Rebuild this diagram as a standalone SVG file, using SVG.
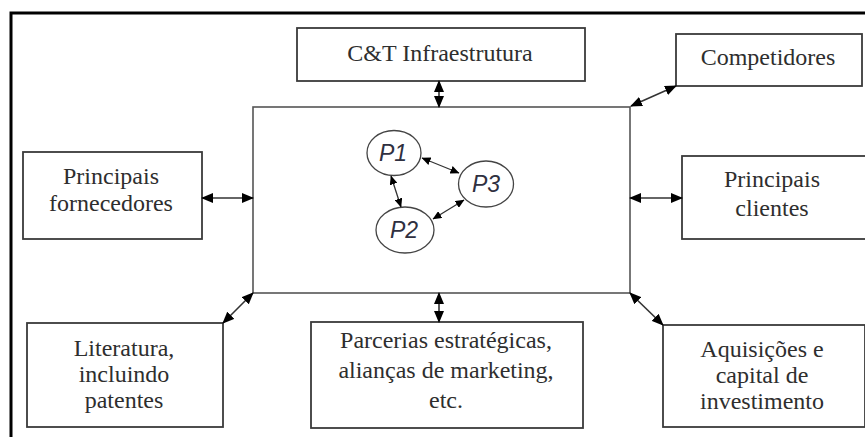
<svg xmlns="http://www.w3.org/2000/svg" width="865" height="437" viewBox="0 0 865 437">
<style>
.box{fill:#fff;stroke:#3a3a3a;stroke-width:1.8}
.lbl{font-family:"Liberation Serif","Times New Roman",serif;font-size:24px;fill:#2e2e2e;text-anchor:middle}
.pn{fill:#fff;stroke:#444;stroke-width:1.3}
.pl{font-family:"Liberation Sans",Arial,sans-serif;font-style:italic;font-size:23px;fill:#2f3040;text-anchor:middle}
.con{stroke:#333;stroke-width:1.6;fill:none;marker-start:url(#ah);marker-end:url(#ah)}
.con2{stroke:#333;stroke-width:1.3;fill:none;marker-start:url(#ahs);marker-end:url(#ahs)}
</style>
<defs>
<marker id="ah" markerUnits="userSpaceOnUse" markerWidth="12" markerHeight="10" refX="11" refY="5" orient="auto-start-reverse" viewBox="0 0 12 10">
<path d="M0,0 L12,5 L0,10 Z" fill="#000"/>
</marker>
<marker id="ahs" markerUnits="userSpaceOnUse" markerWidth="9" markerHeight="8" refX="8.5" refY="4" orient="auto-start-reverse" viewBox="0 0 9 8">
<path d="M0,0 L9,4 L0,8 Z" fill="#000"/>
</marker>
</defs>
<rect x="0" y="0" width="865" height="437" fill="#fff"/>
<path d="M11,440 L11,13 L870,13" fill="none" stroke="#000" stroke-width="3"/>

<g id="central">
<rect x="253" y="107" width="377" height="186" fill="#fff" stroke="#555" stroke-width="1.6"/>
</g>
<g id="p1"><ellipse class="pn" cx="394" cy="153" rx="27" ry="22.5"/><text class="pl" x="393" y="161">P1</text></g>
<g id="p3"><ellipse class="pn" cx="486" cy="184" rx="27.5" ry="23"/><text class="pl" x="486" y="192">P3</text></g>
<g id="p2"><ellipse class="pn" cx="405" cy="230" rx="29" ry="23"/><text class="pl" x="404" y="238">P2</text></g>

<g id="ct"><rect class="box" x="297" y="28" width="288" height="53"/><text class="lbl" x="440" y="61">C&amp;T Infraestrutura</text></g>
<g id="competidores"><rect class="box" x="676" y="34" width="186" height="52"/><text class="lbl" x="768" y="65">Competidores</text></g>
<g id="fornecedores"><rect class="box" x="23" y="152" width="179" height="87"/><text class="lbl" x="111" y="184">Principais</text><text class="lbl" x="111" y="211">fornecedores</text></g>
<g id="clientes"><rect class="box" x="682" y="156" width="185" height="83"/><text class="lbl" x="772" y="187">Principais</text><text class="lbl" x="772" y="216">clientes</text></g>
<g id="literatura"><rect class="box" x="27" y="323" width="196" height="104"/><text class="lbl" x="124" y="356">Literatura,</text><text class="lbl" x="124" y="382">incluindo</text><text class="lbl" x="124" y="408">patentes</text></g>
<g id="parcerias"><rect class="box" x="311" y="322" width="272" height="106"/><text class="lbl" x="446" y="348">Parcerias estratégicas,</text><text class="lbl" x="446" y="378">alianças de marketing,</text><text class="lbl" x="446" y="408">etc.</text></g>
<g id="aquisicoes"><rect class="box" x="663" y="325" width="202" height="102"/><text class="lbl" x="762" y="357">Aquisições e</text><text class="lbl" x="762" y="383">capital de</text><text class="lbl" x="762" y="409">investimento</text></g>

<g id="connectors">
<line class="con" x1="439" y1="81" x2="439" y2="107"/>
<line class="con" x1="631" y1="106" x2="676" y2="86"/>
<line class="con" x1="202" y1="198" x2="253" y2="198"/>
<line class="con" x1="630" y1="198" x2="682" y2="198"/>
<line class="con" x1="223" y1="323" x2="253" y2="293"/>
<line class="con" x1="439" y1="293" x2="439" y2="322"/>
<line class="con" x1="630" y1="293" x2="663" y2="325"/>
<line class="con2" x1="422" y1="158" x2="459" y2="173"/>
<line class="con2" x1="391" y1="176" x2="401" y2="207"/>
<line class="con2" x1="433" y1="219" x2="464" y2="200"/>
</g>
</svg>
